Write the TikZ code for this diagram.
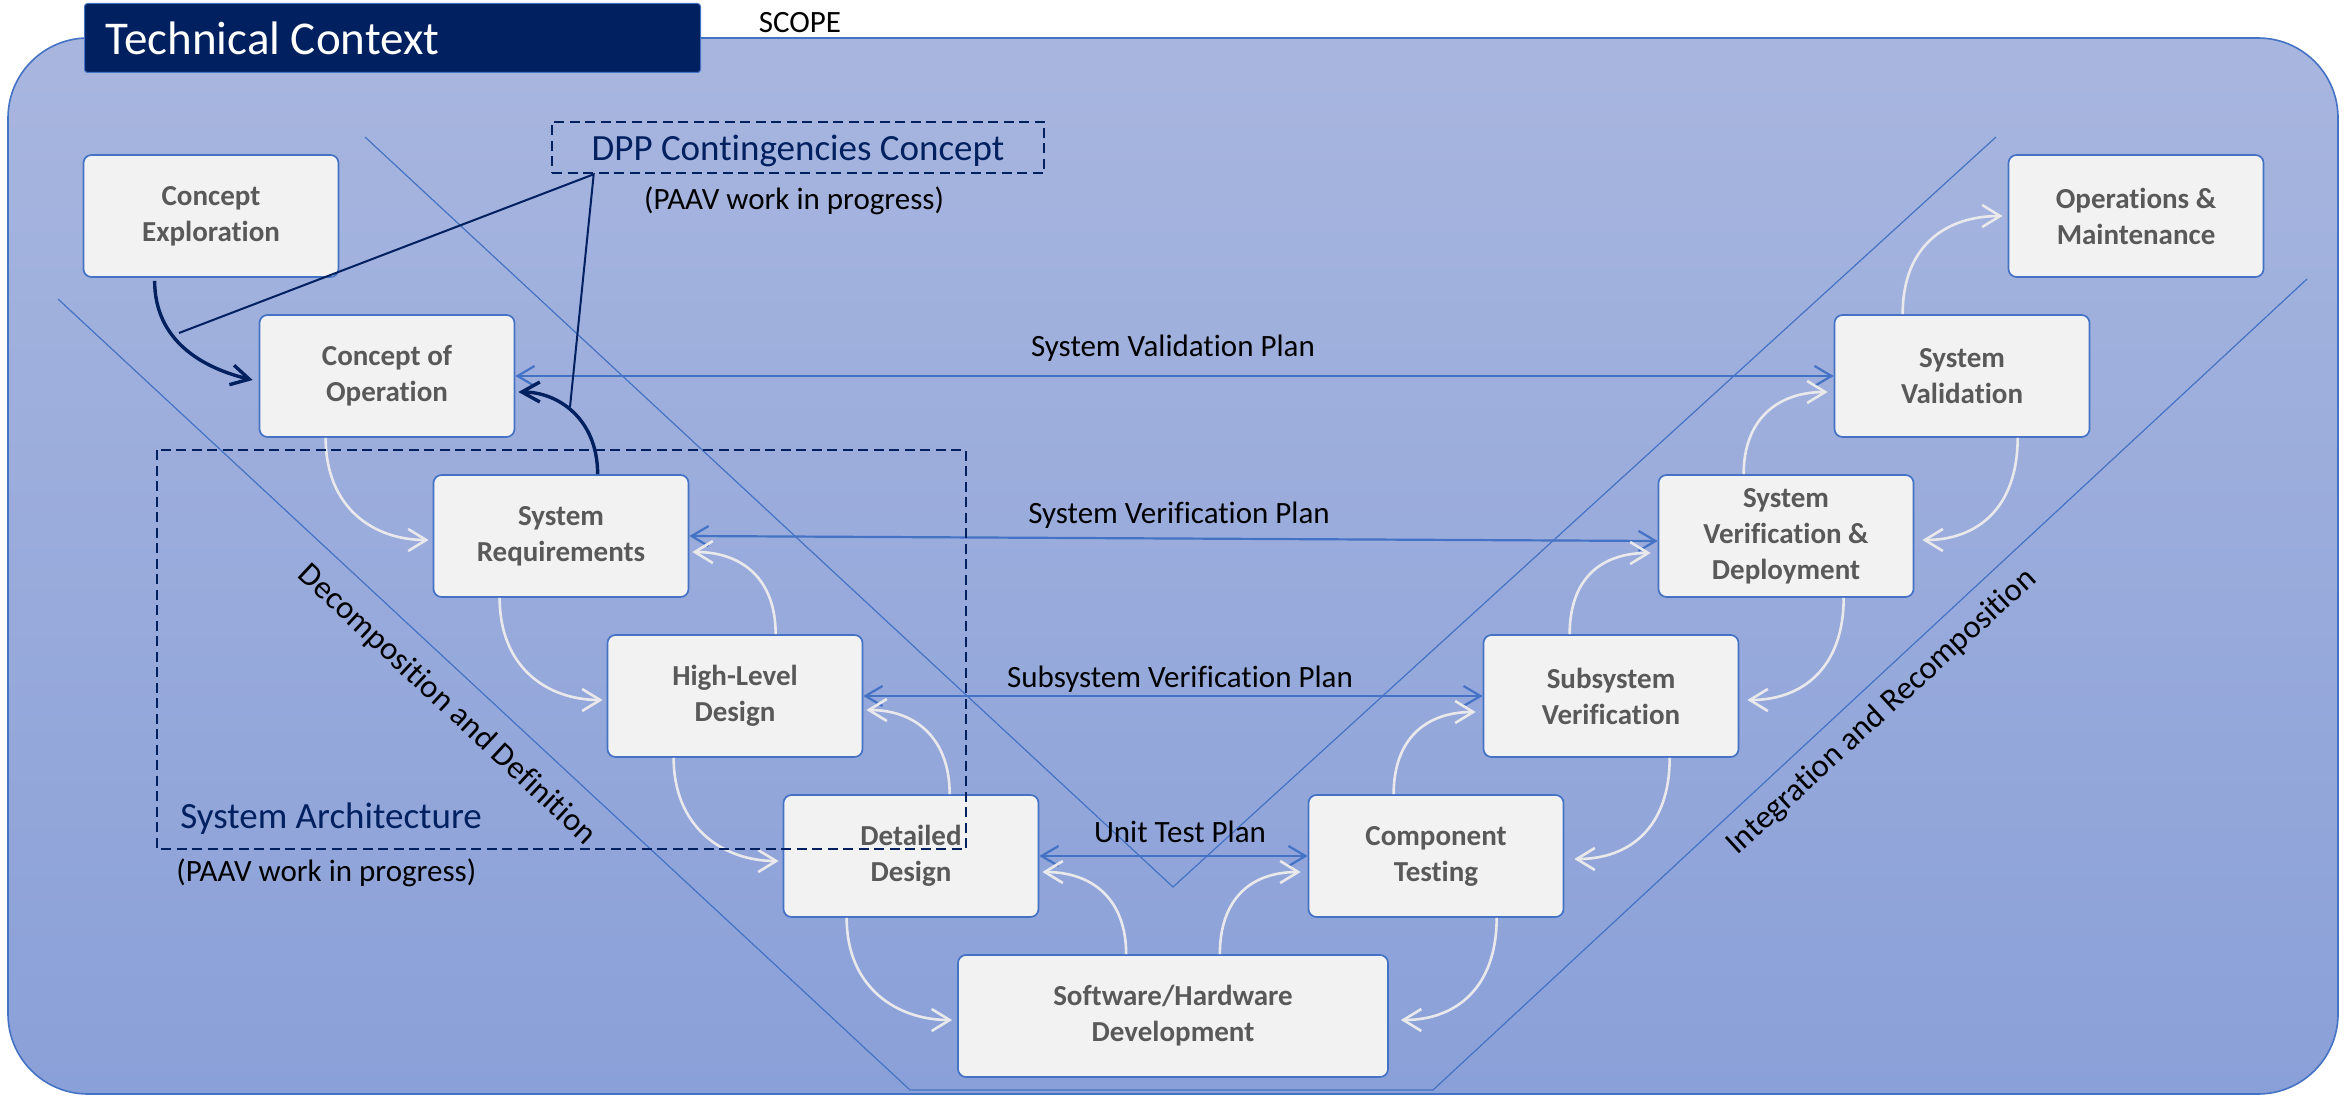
\documentclass[tikz,border=0pt]{standalone}
\usepackage{fontspec}
\setmainfont{Carlito}[Ligatures=NoCommon]
\usetikzlibrary{arrows.meta,calc}

\definecolor{navy}{HTML}{002060}
\definecolor{vblue}{HTML}{4472C4}
\definecolor{boxfill}{HTML}{F2F2F2}
\definecolor{boxtext}{HTML}{595959}
\definecolor{flowgray}{HTML}{E9E9EC}
\definecolor{bgtop}{HTML}{A8B6DF}
\definecolor{bgbot}{HTML}{8AA0D8}

% curved connector between two named coordinates with control offsets
\newcommand{\curvedflow}[5]{\draw[#1] (#2) .. controls ($(#2)+(#4)$) and ($(#3)+(#5)$) .. (#3);}

\begin{document}
\begin{tikzpicture}[x=0.5pt,y=-0.5pt,
  stepbox/.style={draw=vblue, line width=0.85pt, fill=boxfill, rounded corners=4pt,
    minimum width=127.5pt, minimum height=61pt, inner sep=0pt, align=center,
    text=boxtext, font=\fontsize{14.5}{18}\selectfont\bfseries},
  widebox/.style={stepbox, minimum width=215pt},
  titlebox/.style={fill=navy, draw=vblue, line width=0.5pt, rounded corners=1.5pt,
    minimum height=34.5pt, inner xsep=10.5pt, inner ysep=0pt,
    text=white, font=\fontsize{23.5}{28}\selectfont},
  vline/.style={draw=vblue, line width=0.6pt},
  plan/.style={draw=vblue, line width=1.1pt,
    {Straight Barb[length=8.5pt,width=10pt]}-{Straight Barb[length=8.5pt,width=10pt]}},
  flow/.style={draw=flowgray, line width=1.3pt, -{Straight Barb[length=9pt,width=11pt]}},
  navyflow/.style={draw=navy, line width=1.7pt, -{Straight Barb[length=9pt,width=10pt]}},
  callout/.style={draw=navy, line width=1pt},
  dashbox/.style={draw=navy, line width=1.3pt, dash pattern=on 5pt off 2.75pt},
  planlabel/.style={inner sep=0pt, text=black, font=\fontsize{15.5}{18}\selectfont},
  notelabel/.style={inner sep=0pt, text=navy, font=\fontsize{18.5}{22}\selectfont},
  slantlabel/.style={inner sep=0pt, text=black, font=\fontsize{16.25}{19}\selectfont}
]
\useasboundingbox (0,0) rectangle (2344,1096);

% scope backdrop
\shade[top color=bgtop, bottom color=bgbot, rounded corners=40pt] (8,38) rectangle (2338,1094);
\draw[vblue, line width=0.8pt, rounded corners=40pt] (8,38) rectangle (2338,1094);

% title tab
\node[titlebox, anchor=north west] (title) at (84,3) {\makebox[287pt][l]{Technical Context}};
\node[planlabel, anchor=base] (scope) at (800,33) {SCOPE};

% V outlines
\draw[vline] (58,299) -- (910,1090) -- (1433,1090) -- (2307,279);
\draw[vline] (365,137) -- (1173,887) -- (1996,137);

% process steps
\node[stepbox] (CE)   at (211,216)  {Concept\\Exploration};
\node[stepbox] (CO)   at (387,376)  {Concept of\\Operation};
\node[stepbox] (SR)   at (561,536)  {System\\Requirements};
\node[stepbox] (HLD)  at (735,696)  {High-Level\\Design};
\node[stepbox] (DD)   at (911,856)  {Detailed\\Design};
\node[widebox] (SWHW) at (1173,1016) {Software/Hardware\\Development};
\node[stepbox] (CT)   at (1436,856) {Component\\Testing};
\node[stepbox] (SV)   at (1611,696) {Subsystem\\Verification};
\node[stepbox] (SVD)  at (1786,536) {System\\Verification \&\\Deployment};
\node[stepbox] (SVal) at (1962,376) {System\\Validation};
\node[stepbox] (OM)   at (2136,216) {Operations \&\\Maintenance};

% verification / validation plans
\draw[plan] (CO.east) -- (SVal.west);
\draw[plan] (SR.east) -- ($(SVD.west)+(0,5)$);
\draw[plan] (HLD.east) -- (SV.west);
\draw[plan] (DD.east) -- (CT.west);
\node[planlabel, anchor=base] (lvalid)  at (1173,357) {System Validation Plan};
\node[planlabel, anchor=base] (lsysver) at (1179,523) {System Verification Plan};
\node[planlabel, anchor=base] (lsubver) at (1180,687) {Subsystem Verification Plan};
\node[planlabel, anchor=base] (lunit)   at (1180,842) {Unit Test Plan};

% contingencies concept callout
\node[dashbox, notelabel, minimum width=246pt, minimum height=25.5pt, text depth=0pt]
  (DPP) at (798,147.5) {DPP Contingencies Concept};
\node[planlabel, anchor=base] (dppnote) at (794,210) {(PAAV work in progress)};
\coordinate (apex) at ($(DPP.south west)+(43,0)$);
\coordinate (calloutA) at (179,333);
\coordinate (calloutB) at (570,407);
\draw[callout] (calloutA) -- (apex) -- (calloutB);

% left leg, going down
\coordinate (d1s) at ($(CO.south west)+(67,0)$);   \coordinate (d1e) at ($(SR.west)+(-4,4)$);
\coordinate (d2s) at ($(SR.south west)+(67,0)$);   \coordinate (d2e) at ($(HLD.west)+(-4,4)$);
\coordinate (d3s) at ($(HLD.south west)+(67,0)$);  \coordinate (d3e) at ($(DD.west)+(-4,5)$);
\coordinate (d4s) at ($(DD.south west)+(64,0)$);   \coordinate (d4e) at ($(SWHW.west)+(-5,4)$);
\curvedflow{flow}{d1s}{d1e}{0,70}{-55,0}
\curvedflow{flow}{d2s}{d2e}{0,70}{-55,0}
\curvedflow{flow}{d3s}{d3e}{0,70}{-55,0}
\curvedflow{flow}{d4s}{d4e}{0,70}{-55,0}

% left leg, going back up
\coordinate (u1s) at ($(HLD.north west)+(169,0)$);  \coordinate (u1e) at ($(SR.east)+(3,16)$);
\coordinate (u2s) at ($(DD.north west)+(167,0)$);   \coordinate (u2e) at ($(HLD.east)+(3,14)$);
\coordinate (u3s) at ($(SWHW.north west)+(169,0)$); \coordinate (u3e) at ($(DD.east)+(3,16)$);
\curvedflow{flow}{u1s}{u1e}{0,-55}{50,0}
\curvedflow{flow}{u2s}{u2e}{0,-55}{50,0}
\curvedflow{flow}{u3s}{u3e}{0,-55}{50,0}

% right leg, going up
\coordinate (r1s) at ($(SWHW.north east)+(-169,0)$); \coordinate (r1e) at ($(CT.west)+(-7,16)$);
\coordinate (r2s) at ($(CT.north west)+(86,0)$);     \coordinate (r2e) at ($(SV.west)+(-7,16)$);
\coordinate (r3s) at ($(SV.north west)+(87,0)$);     \coordinate (r3e) at ($(SVD.west)+(-7,17)$);
\coordinate (r4s) at ($(SVD.north west)+(86,0)$);    \coordinate (r4e) at ($(SVal.west)+(-6,16)$);
\coordinate (r5s) at ($(SVal.north west)+(69,0)$);   \coordinate (r5e) at ($(OM.west)+(-5,0)$);
\curvedflow{flow}{r1s}{r1e}{0,-55}{-50,0}
\curvedflow{flow}{r2s}{r2e}{0,-55}{-50,0}
\curvedflow{flow}{r3s}{r3e}{0,-55}{-50,0}
\curvedflow{flow}{r4s}{r4e}{0,-55}{-50,0}
\curvedflow{flow}{r5s}{r5e}{0,-70}{-55,0}

% right leg, going back down
\coordinate (l1s) at ($(SVal.south west)+(184,0)$); \coordinate (l1e) at ($(SVD.east)+(8,4)$);
\coordinate (l2s) at ($(SVD.south west)+(186,0)$);  \coordinate (l2e) at ($(SV.east)+(8,4)$);
\coordinate (l3s) at ($(SV.south west)+(187,0)$);   \coordinate (l3e) at ($(CT.east)+(10,3)$);
\coordinate (l4s) at ($(CT.south west)+(189,0)$);   \coordinate (l4e) at ($(SWHW.east)+(12,4)$);
\curvedflow{flow}{l1s}{l1e}{0,70}{55,0}
\curvedflow{flow}{l2s}{l2e}{0,70}{55,0}
\curvedflow{flow}{l3s}{l3e}{0,70}{55,0}
\curvedflow{flow}{l4s}{l4e}{0,70}{55,0}

% inputs to the concept of operation
\coordinate (n1s) at ($(CE.south west)+(72,3)$); \coordinate (n1e) at ($(CO.west)+(-6,4)$);
\coordinate (n2s) at ($(SR.north west)+(165,0)$); \coordinate (n2e) at ($(CO.east)+(3,16)$);
\curvedflow{navyflow}{n1s}{n1e}{0,60}{-50,-12}
\curvedflow{navyflow}{n2s}{n2e}{0,-55}{40,0}

% system architecture frame
\draw[dashbox] (157,450) rectangle (966,849);
\node[notelabel, anchor=base west] (salabel) at (180,828) {System Architecture};
\node[planlabel, anchor=base west] (sanote) at (176,881) {(PAAV work in progress)};

% leg captions
\node[slantlabel, rotate=-43] (decomp) at (447,705) {Decomposition and Definition};
\node[slantlabel, rotate=42.5] (integ) at (1882,712) {Integration and Recomposition};
\end{tikzpicture}
\end{document}
